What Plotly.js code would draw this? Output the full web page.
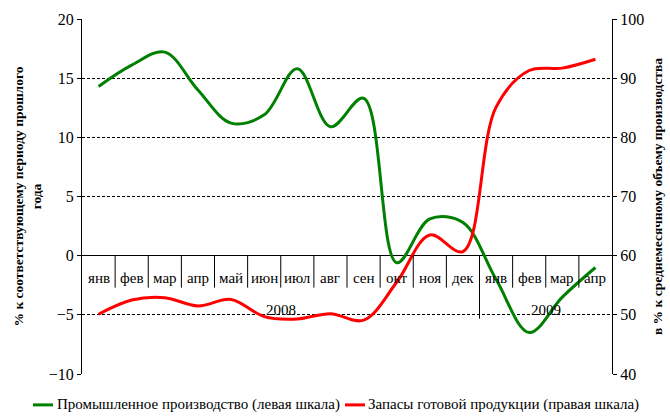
<!DOCTYPE html>
<html><head><meta charset="utf-8">
<script src="https://cdn.plot.ly/plotly-3.0.1.min.js"></script>
<style>html,body{margin:0;padding:0;background:#fff}#chart{width:670px;height:417px}</style>
</head><body><div id="chart"></div>
<script>
// Month labels (2008: янв..дек, 2009: янв..апр)
const months = ["янв","фев","мар","апр","май","июн","июл","авг","сен","окт","ноя","дек","янв","фев","мар","апр"];
const yearLabels = ["2008","2009"];
const yearCounts = [12, 4];
// Промышленное производство, % к соответствующему периоду прошлого года (левая шкала)
const industry = [14.3, 16.1, 17.2, 14.0, 11.2, 11.9, 15.8, 10.9, 13.3, -0.6, 3.1, 2.8, -2.0, -6.5, -3.5, -1.0];
// Запасы готовой продукции, в % к среднемесячному объему производства (правая шкала)
const stocks = [50.1, 52.5, 52.9, 51.5, 52.6, 49.7, 49.3, 50.2, 49.1, 55.5, 63.5, 60.7, 85.1, 91.3, 91.7, 93.2];
const seriesNames = ["Промышленное производство (левая шкала)", "Запасы готовой продукции (правая шкала)"];
const seriesColors = ["#008000", "#ff0000"];

const xs = months.map((_, i) => i);
const serif = "Liberation Serif, Times New Roman, serif";

const traces = [
  {x: xs, y: industry, type: "scatter", mode: "lines", name: seriesNames[0],
   line: {color: seriesColors[0], width: 3, shape: "spline", smoothing: 1}, yaxis: "y"},
  {x: xs, y: stocks, type: "scatter", mode: "lines", name: seriesNames[1],
   line: {color: seriesColors[1], width: 3, shape: "spline", smoothing: 1}, yaxis: "y2"}
];

const annotations = [];
const shapes = [];
months.forEach((m, i) => {
  annotations.push({x: i, y: 0, xref: "x", yref: "y", text: m, showarrow: false,
    yanchor: "middle", yshift: -22, font: {family: serif, size: 15, color: "#000"}});
});
let start = 0;
yearLabels.forEach((yl, k) => {
  const end = start + yearCounts[k] - 1;
  annotations.push({x: (start + end) / 2, y: 0, xref: "x", yref: "y", text: yl, showarrow: false,
    yanchor: "middle", yshift: -54, font: {family: serif, size: 15, color: "#000"}});
  start += yearCounts[k];
});
for (let i = 0; i < months.length - 1; i++) {
  const isYear = (i + 1) === yearCounts[0];
  shapes.push({type: "line", xref: "x", yref: "y", ysizemode: "pixel", yanchor: 0,
    x0: i + 0.5, x1: i + 0.5, y0: 0, y1: isYear ? -63 : -32,
    line: {color: "#000", width: 1}});
}

// Legend drawn below the plot (paper coordinates)
const legendY = -0.087;
const legendItems = [{x0: -0.0925, x1: -0.0547, tx: -0.051}, {x0: 0.4962, x1: 0.534, tx: 0.5355}];
legendItems.forEach((it, k) => {
  shapes.push({type: "line", xref: "paper", yref: "paper", x0: it.x0, x1: it.x1, y0: legendY, y1: legendY,
    line: {color: seriesColors[k], width: 3}});
  annotations.push({xref: "paper", yref: "paper", x: it.tx, y: legendY, xanchor: "left", yanchor: "middle",
    text: seriesNames[k], showarrow: false, font: {family: serif, size: 15, color: "#000"}});
});

const layout = {
  width: 670, height: 417,
  margin: {l: 82, r: 58, t: 19, b: 43, pad: 0, autoexpand: false},
  paper_bgcolor: "#fff", plot_bgcolor: "#fff",
  font: {family: serif, color: "#000"},
  showlegend: false,
  xaxis: {visible: false, range: [-0.5, months.length - 0.5]},
  yaxis: {range: [-10, 20], dtick: 5, tick0: 0,
    showgrid: true, gridcolor: "#000", gridwidth: 1, griddash: "3px,2px",
    zeroline: true, zerolinecolor: "#000", zerolinewidth: 1.2,
    showline: true, linecolor: "#000", linewidth: 1,
    ticks: "outside", ticklen: 4, tickcolor: "#000",
    tickfont: {family: serif, size: 16, color: "#000"},
    title: {text: "% к соответствующему периоду прошлого<br>года", standoff: 4,
      font: {family: serif, size: 13.5, color: "#000", weight: "bold"}}},
  yaxis2: {range: [40, 100], dtick: 10, overlaying: "y", side: "right",
    showgrid: false, zeroline: false,
    showline: true, linecolor: "#000", linewidth: 1,
    ticks: "outside", ticklen: 4, tickcolor: "#000",
    tickfont: {family: serif, size: 16, color: "#000"},
    title: {text: "в % к среднемесячному объему производства", standoff: 9,
      font: {family: serif, size: 13.5, color: "#000", weight: "bold"}}},
  annotations: annotations,
  shapes: shapes
};

Plotly.newPlot("chart", traces, layout, {displayModeBar: false, staticPlot: true});
</script>
</body></html>
